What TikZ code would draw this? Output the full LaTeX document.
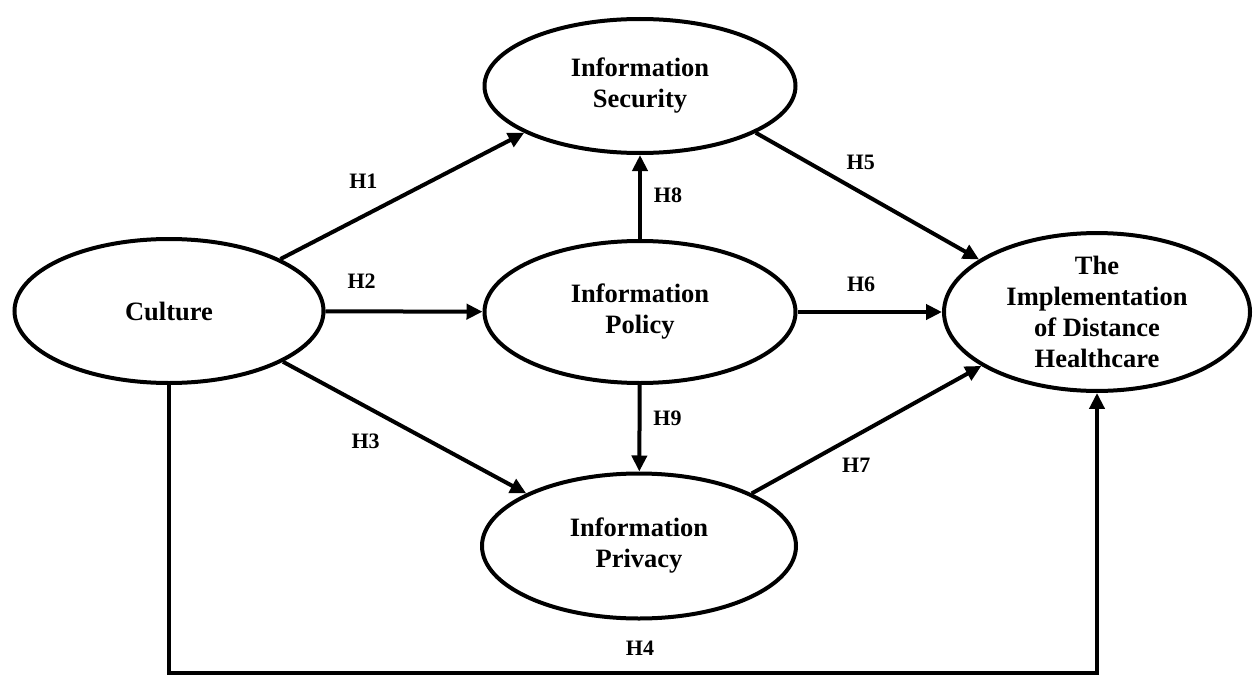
\documentclass[tikz,border=0pt]{standalone}
\usepackage{fontspec}
\setmainfont{Liberation Serif}
\usetikzlibrary{shapes.geometric,arrows.meta,positioning}

\begin{document}
\begin{tikzpicture}[x=1pt,y=-1pt,
  every node/.style={font=\bfseries\fontsize{26.5}{31}\selectfont,align=center},%
  el/.style={ellipse,draw,line width=4pt,inner sep=0pt,
    minimum width=311pt,minimum height=142pt},%
  e/.style={-{Triangle[length=16pt,width=15pt]},line width=4pt},%
  lab/.style={font=\bfseries\fontsize{22}{26}\selectfont},%
  ]
  \useasboundingbox (0,0) rectangle (1253,677);
  % constructs
  \node (cul)  [el,minimum width=309pt,minimum height=144pt] at (169,311) {Culture};
  \node (sec)  [el,minimum height=134pt] at (640,86) {Information\\Security};
  \node (pol)  [el] at (640,312) {Information\\Policy};
  \node (priv) [el,minimum width=314pt,minimum height=145pt] at (639,546) {Information\\Privacy};
  \node (impl) [el,minimum width=306pt] at (1097,312)
  {The\\Implementation\\of Distance\\Healthcare};

  % hypotheses
  \draw [e] (cul.25) -- node[lab,pos=.34,yshift=35pt] (h1) {H1} (sec.-158);
  \draw [e] (cul) -- node[lab,pos=.23,yshift=30pt] (h2) {H2} (pol);
  \draw [e] (cul.-24.5) -- node[lab,pos=.34,yshift=-35pt] (h3) {H3} (priv.155.5);
  \draw [e] (sec.-22.7) -- node[lab,pos=.47,yshift=30pt] (h5) {H5} (impl.156);
  \draw [e] (pol) -- node[lab,pos=.44,yshift=28pt] (h6) {H6} (impl);
  \draw [e] (priv.25) -- node[lab,pos=.455,yshift=-30pt] (h7) {H7} (impl.-155);
  \draw [e] (pol) -- node[lab,pos=.52,xshift=28pt] (h8) {H8} (sec);
  \draw [e] (pol) -- node[lab,pos=.38,xshift=28pt] (h9) {H9} (priv);

  \coordinate (base) at (640,673);
  \draw [e] (cul.south) |- (base) -| (impl.south);
  \node (h4) [lab,above=14pt of base] {H4};
\end{tikzpicture}
\end{document}
